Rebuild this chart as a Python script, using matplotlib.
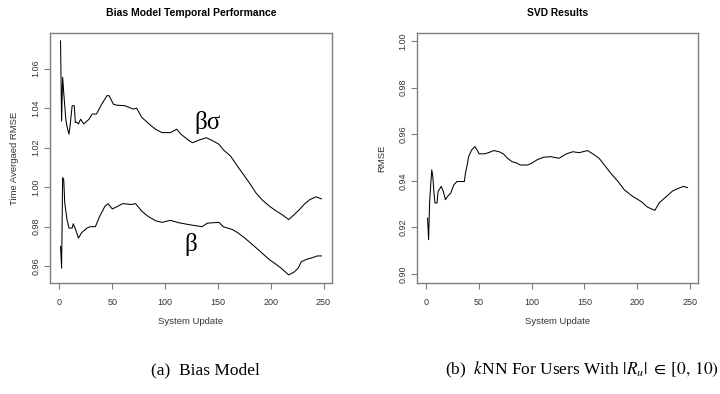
import matplotlib
matplotlib.use("Agg")
import matplotlib.pyplot as plt

plt.rcParams['font.family'] = ['Liberation Sans', 'DejaVu Sans']
plt.rcParams['mathtext.fontset'] = 'stix'

# Bias model, beta-sigma curve
bs_x = [1, 2, 3, 4, 5, 6, 7, 9, 10, 12, 14, 15, 16, 18, 20, 23, 28, 31, 35, 40,
        45, 47, 51, 54, 62, 70, 73, 78, 85, 91, 97, 105, 111, 115, 123, 126, 133, 139, 145, 151,
        155, 162, 168, 173, 180, 186, 192, 199, 205, 211, 217, 222, 227, 232, 237, 243, 248]
bs_y = [1.074, 1.0335, 1.0556, 1.048, 1.0412, 1.0344, 1.031, 1.0268, 1.0307, 1.0412,
        1.0412, 1.0327, 1.033, 1.032, 1.0344, 1.032, 1.0344, 1.037, 1.037, 1.042,
        1.0463, 1.0463, 1.042, 1.0415, 1.0412, 1.0395, 1.04, 1.0353, 1.0319, 1.0293,
        1.0276, 1.0276, 1.0293, 1.0268, 1.0234, 1.0225, 1.024, 1.025, 1.0235, 1.0217,
        1.019, 1.0157, 1.011, 1.0073, 1.002, 0.9971, 0.9935, 0.9903, 0.988, 0.986,
        0.9836, 0.986, 0.9886, 0.9915, 0.9937, 0.9951, 0.9941]

# Bias model, beta curve
b_x = [1, 2, 3, 4, 5, 6, 7, 9, 12, 13, 15, 18, 21, 26, 29, 34, 38, 43, 46, 50,
       54, 60, 68, 72, 78, 84, 91, 97, 105, 113, 123, 129, 135, 140, 151, 155, 164, 170, 176, 183,
       190, 199, 205, 211, 217, 222, 226, 229, 234, 240, 244, 248]
b_y = [0.970, 0.959, 1.0048, 1.004, 0.992, 0.988, 0.984, 0.9793, 0.9793, 0.9815,
       0.979, 0.9742, 0.977, 0.9793, 0.980, 0.980, 0.9852, 0.9903, 0.9916, 0.989,
       0.990, 0.9917, 0.9912, 0.9917, 0.9878, 0.9852, 0.983, 0.9822, 0.9832, 0.982,
       0.981, 0.9805, 0.980, 0.9818, 0.9822, 0.980, 0.9785, 0.9765, 0.974, 0.9708,
       0.9675, 0.9632, 0.961, 0.9585, 0.9556, 0.957, 0.959, 0.9623, 0.9635, 0.9644,
       0.9652, 0.9652]

# SVD results
svd_x = [1, 2, 3, 4, 5, 6, 7, 8, 10, 11, 14, 16, 18, 20, 23, 26, 29, 33, 36, 37,
         39, 40, 43, 46, 48, 50, 55, 59, 64, 69, 73, 77, 81, 86, 89, 96, 100, 105, 111, 118,
         122, 126, 133, 139, 145, 153, 158, 164, 169, 175, 182, 188, 196, 204, 210, 217, 221, 228, 234, 240,
         244, 248]
svd_y = [0.924, 0.9147, 0.9311, 0.9383, 0.9447, 0.9418, 0.9354, 0.9305, 0.9305, 0.9354,
         0.9376, 0.9354, 0.9319, 0.9333, 0.9347, 0.9383, 0.9397, 0.9397, 0.9397, 0.9433,
         0.9476, 0.9504, 0.9533, 0.9547, 0.9533, 0.9516, 0.9516, 0.9521, 0.953, 0.9525,
         0.9516, 0.9497, 0.9483, 0.9476, 0.9468, 0.9468, 0.9476, 0.949, 0.9501, 0.9504,
         0.950, 0.9497, 0.9516, 0.9525, 0.9521, 0.953, 0.9516, 0.9497, 0.9468, 0.9433,
         0.9397, 0.9361, 0.9333, 0.9311, 0.9287, 0.9273, 0.9305, 0.9333, 0.9357, 0.9369,
         0.9376, 0.9371]

x_ticks = [0, 50, 100, 150, 200, 250]
left_yticks = [0.96, 0.98, 1.00, 1.02, 1.04, 1.06]
right_yticks = [0.90, 0.92, 0.94, 0.96, 0.98, 1.00]

grey = '#7f7f7f'
txt = '#333333'
serif = ['Liberation Serif', 'DejaVu Serif']


def r_style(ax, yticks):
    for s in ax.spines.values():
        s.set_color(grey)
        s.set_linewidth(1.0)
    ax.set_xticks(x_ticks)
    ax.set_yticks(yticks)
    ax.set_yticklabels(['%.2f' % v for v in yticks], rotation=90, va='center')
    ax.tick_params(direction='out', length=4, width=0.8, color=grey,
                   labelsize=6.5, labelcolor=txt)
    ax.tick_params(axis='x', pad=7)
    ax.tick_params(axis='y', pad=3)
    ax.set_xlim(-9, 258)


fig = plt.figure(figsize=(7.2, 3.94), dpi=100)

ax1 = fig.add_axes([0.0694, 0.2817, 0.3917, 0.6345])
ax1.plot(bs_x, bs_y, color='black', lw=0.75)
ax1.plot(b_x, b_y, color='black', lw=0.75)
r_style(ax1, left_yticks)
ax1.set_ylim(0.9515, 1.078)
ax1.text(139.7, 1.0329, 'βσ', family=serif, fontsize=18, ha='center', va='center')
ax1.text(124.5, 0.9708, 'β', family=serif, fontsize=18, ha='center', va='center')
ax1.text(0.5, 1.08, 'Bias Model Temporal Performance', transform=ax1.transAxes,
         ha='center', va='center', fontsize=7.5, fontweight='bold')
ax1.text(0.5, -0.155, 'System Update', transform=ax1.transAxes,
         ha='center', va='center', fontsize=6.8, color=txt)
ax1.text(-0.124, 0.5, 'Time Avergaed RMSE', transform=ax1.transAxes, rotation=90,
         ha='center', va='center', fontsize=6.8, color=txt)

ax2 = fig.add_axes([0.5792, 0.2817, 0.3903, 0.6345])
ax2.plot(svd_x, svd_y, color='black', lw=0.75)
r_style(ax2, right_yticks)
ax2.set_ylim(0.8961, 1.0035)
ax2.text(0.5, 1.08, 'SVD Results', transform=ax2.transAxes,
         ha='center', va='center', fontsize=7.4, fontweight='bold')
ax2.text(0.5, -0.155, 'System Update', transform=ax2.transAxes,
         ha='center', va='center', fontsize=6.8, color=txt)
ax2.text(-0.124, 0.5, 'RMSE', transform=ax2.transAxes, rotation=90,
         ha='center', va='center', fontsize=6.8, color=txt)

fig.text(205 / 720, 1 - 370 / 394, '(a)  Bias Model', family=serif, fontsize=12.5,
         ha='center', va='center')
fig.text(582 / 720, 1 - 370 / 394, r'(b)  $k$NN For Users With $|R_u|\;\in\;[0,\,10)$',
         family=serif, fontsize=12.5, ha='center', va='center')

fig.savefig('out.png', dpi=100)
